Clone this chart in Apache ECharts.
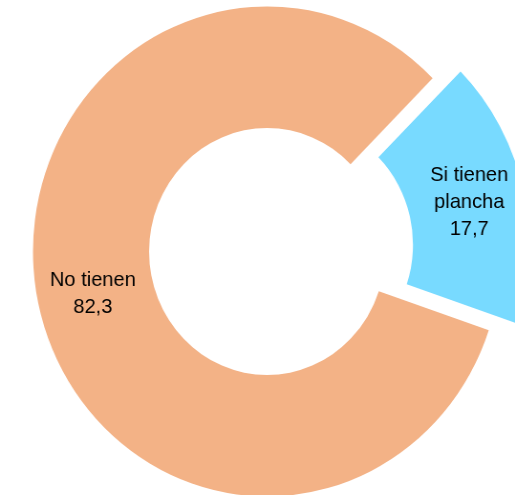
<!DOCTYPE html>
<html>
<head>
<meta charset="utf-8">
<script src="https://cdn.jsdelivr.net/npm/echarts@6/dist/echarts.min.js"></script>
<style>
html,body{margin:0;padding:0;background:#fff;overflow:hidden;}
#wrap{width:515px;height:495px;overflow:hidden;}
#chart{width:539px;height:495px;transform:scaleX(0.9555);transform-origin:0 0;}
</style>
</head>
<body>
<div id="wrap"><div id="chart"></div></div>
<script>
const categories = ["Si tienen\nplancha", "No tienen"];
const values = [17.7, 82.3];
const colors = ["#78DAFF", "#F3B286"];

const chart = echarts.init(document.getElementById('chart'), null, {renderer: 'canvas'});
chart.setOption({
  animation: false,
  backgroundColor: '#fff',
  series: [{
    type: 'pie',
    center: [279.5, 251.5],
    radius: [123.5, 245],
    startAngle: 45,
    clockwise: true,
    selectedMode: 'single',
    selectedOffset: 30,
    avoidLabelOverlap: false,
    label: {
      show: true,
      position: 'inside',
      fontFamily: '"Liberation Sans Narrow", "Arial Narrow", "Liberation Sans", sans-serif',
      fontSize: 21,
      lineHeight: 27,
      color: '#000',
      align: 'center',
      formatter: p => p.name + '\n' + p.value.toFixed(1).replace('.', ',')
    },
    labelLine: {show: false},
    emphasis: {disabled: true},
    data: categories.map((c, i) => ({
      name: c,
      value: values[i],
      selected: i === 0,
      itemStyle: {color: colors[i]}
    }))
  }]
});
</script>
</body>
</html>
